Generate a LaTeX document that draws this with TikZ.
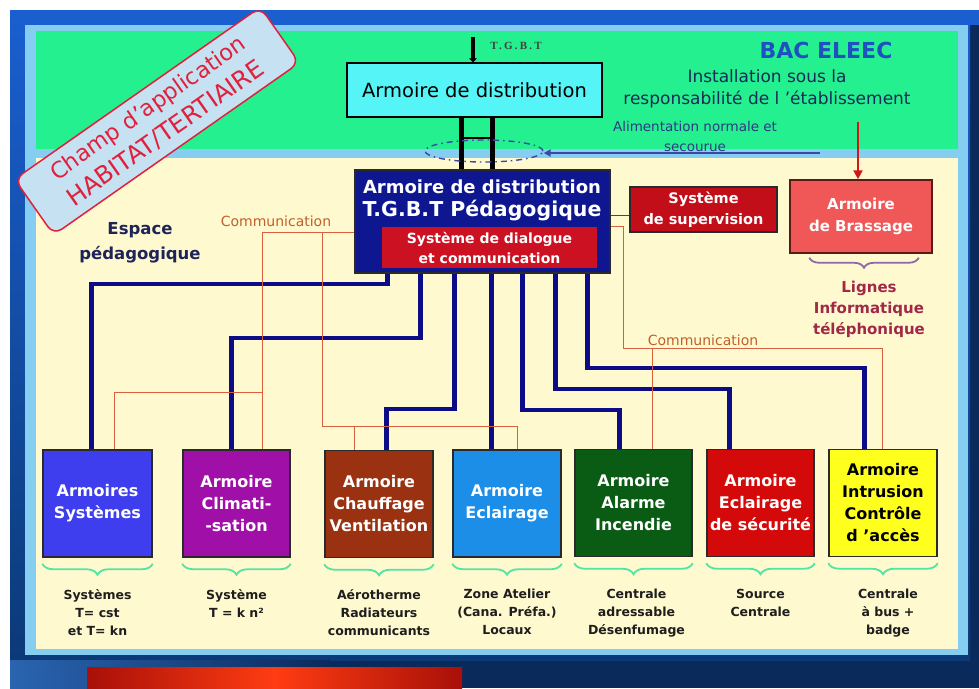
\documentclass[tikz,border=0pt]{standalone}
\usepackage{fontspec}
\setmainfont{DejaVu Sans}
\newfontfamily\tgbtfont[LetterSpace=20]{Liberation Serif}
\usetikzlibrary{arrows.meta,decorations.pathreplacing,shapes.geometric,calc}

% palette
\definecolor{framebl}{HTML}{1A5FD0}
\definecolor{framedk}{HTML}{0B3A78}
\definecolor{navybg}{HTML}{0B2A5C}
\definecolor{rimbl}{HTML}{86CDF2}
\definecolor{headgr}{HTML}{24F090}
\definecolor{cream}{HTML}{FFF9CF}
\definecolor{champred}{HTML}{E0203C}
\definecolor{champfill}{HTML}{C6E2F2}
\definecolor{distcyan}{HTML}{55F4F6}
\definecolor{tgbtnavy}{HTML}{0E1690}
\definecolor{dlgred}{HTML}{CC1222}
\definecolor{suprred}{HTML}{C20E18}
\definecolor{brassred}{HTML}{F05858}
\definecolor{brassedge}{HTML}{5A1A1A}
\definecolor{brassarrow}{HTML}{D01818}
\definecolor{navyln}{HTML}{0C0C86}
\definecolor{commred}{HTML}{D9603E}
\definecolor{suprlink}{HTML}{8A3020}
\definecolor{commtxt}{HTML}{C0602C}
\definecolor{mint}{HTML}{50E6A2}
\definecolor{bracepur}{HTML}{9068A8}
\definecolor{lignetxt}{HTML}{A02848}
\definecolor{espacetxt}{HTML}{1E2458}
\definecolor{bactxt}{HTML}{1E50C0}
\definecolor{insttxt}{HTML}{1A2A58}
\definecolor{alimtxt}{HTML}{2E3A84}
\definecolor{alimln}{HTML}{3A48A8}
\definecolor{captxt}{HTML}{1E1E1E}
\definecolor{boxedge}{HTML}{2A2A2A}
\definecolor{csys}{HTML}{3E3EEE}
\definecolor{cclim}{HTML}{A010A8}
\definecolor{cchauf}{HTML}{9A3212}
\definecolor{cecl}{HTML}{1C8EE8}
\definecolor{calarm}{HTML}{0A5C14}
\definecolor{csecu}{HTML}{D40A0A}
\definecolor{cintr}{HTML}{FFFF1E}
\definecolor{bardark}{HTML}{A81008}
\definecolor{barbright}{HTML}{FF3C12}
\definecolor{barlite}{HTML}{2A64B0}

\begin{document}
\begin{tikzpicture}[x=1pt,y=-1pt,
  armbox/.style={draw=boxedge,line width=1.5pt,inner sep=0pt,minimum height=107pt,
    text=white,font=\fontsize{16}{22}\selectfont\bfseries,align=center},
  smallred/.style={draw=boxedge,line width=1.5pt,inner sep=0pt,text=white,
    font=\fontsize{14.5}{21}\selectfont\bfseries,align=center},
  navyline/.style={draw=navyln,line width=4.5pt},
  commline/.style={draw=commred,line width=1.3pt},
  blackfeed/.style={draw=black,line width=5pt},
  capt/.style={anchor=north,align=center,font=\fontsize{12.5}{18}\selectfont\bfseries,text=captxt},
  brc/.style={decorate,decoration={brace,amplitude=11pt,mirror},draw=mint,line width=1.8pt},
  commlabel/.style={text=commtxt,font=\fontsize{14}{16}\selectfont},
]
\useasboundingbox (0,0) rectangle (979,688);

% ---------- background and frame ----------
\fill[white] (0,0) rectangle (979,688);
\fill[navybg] (10,10) rectangle (979,688);
\shade[top color=framebl,bottom color=framedk] (10,10) rectangle (970,660);
\fill[framebl] (10,10) rectangle (979,25);
\shade[left color=barlite,right color=navybg] (10,660) rectangle (330,688);
\fill[rimbl] (25,25) rectangle (968,655);
\fill[headgr] (36,31) rectangle (958,149);
\fill[cream] (36,158) rectangle (958,649);
\shade[left color=bardark,right color=bardark,middle color=barbright] (87,667) rectangle (462,688);

% ---------- header ----------
\node[font=\fontsize{22}{26}\selectfont\bfseries,text=bactxt] (bac) at (826,50) {BAC ELEEC};
\node[font=\fontsize{17}{22}\selectfont,text=insttxt,align=center] (inst) at (767,89)
  {Installation sous la\\responsabilité de l 'établissement};
\node[font=\fontsize{13.5}{20}\selectfont,text=alimtxt,align=center] (alimtxt) at (695,136)
  {Alimentation normale et\\secourue};

\node[draw=black,line width=1.5pt,fill=distcyan,minimum width=255pt,minimum height=54pt,
  inner sep=0pt,font=\fontsize{19.5}{24}\selectfont] (dist) at (474.5,90) {Armoire de distribution};
\draw[line width=4pt,-{Triangle[length=4pt,width=8pt]}]
  ([xshift=-1.5pt,yshift=25pt]dist.north) -- ([xshift=-1.5pt]dist.north);
\node[font=\tgbtfont\fontsize{11}{13}\selectfont\bfseries,text=black!75] (tgbtlbl) at (516,46) {T.G.B.T};

% ---------- main distribution board ----------
\node[draw=boxedge,line width=1.5pt,fill=tgbtnavy,minimum width=255pt,minimum height=103pt,
  inner sep=0pt] (tgbt) at (482.5,221.5) {};
\node[text=white,font=\fontsize{18}{23}\selectfont\bfseries,align=center,inner sep=0pt] (tgbttxt) at (482,200)
  {Armoire de distribution\\{\fontsize{20.5}{23}\selectfont T.G.B.T Pédagogique}};
\node[smallred,fill=dlgred,draw=none,minimum width=215pt,minimum height=41pt,
  font=\fontsize{14}{20}\selectfont\bfseries] (dlg) at (489.5,247.5)
  {Système de dialogue\\et communication};

% feeders between the two boards
\draw[blackfeed] ([xshift=115pt]dist.south west) -- ([xshift=107pt]tgbt.north west);
\draw[blackfeed] ([xshift=146pt]dist.south west) -- ([xshift=138pt]tgbt.north west);
\coordinate (r1) at (462,138);
\coordinate (r2) at (493,138);
\draw[line width=1.5pt] (r1) -- (r2);

% normal / backup supply switch
\node[ellipse,draw=alimln,line width=1.4pt,dash pattern=on 6pt off 4pt on 1.5pt off 4pt,
  minimum width=118pt,minimum height=22pt,inner sep=0pt] (sw) at (484,151) {};
\coordinate (alim) at (820,153);
\draw[draw=alimln,line width=2.2pt,-{Triangle[length=7pt,width=7pt]}] (alim) -- (alim -| sw.east);

% supervision and patch board
\node[smallred,fill=suprred,minimum width=147pt,minimum height=45pt] (sup) at (703.5,209.5)
  {Système\\de supervision};
\node[smallred,fill=brassred,draw=brassedge,minimum width=142pt,minimum height=73pt,
  font=\fontsize{15}{22}\selectfont\bfseries] (bras) at (861,216.5) {Armoire\\de Brassage};
\draw[draw=brassarrow,line width=2.2pt,-{Triangle[length=9pt,width=9pt]}]
  ([xshift=-3pt,yshift=57pt]bras.north) -- ([xshift=-3pt]bras.north);
\draw[decorate,decoration={brace,amplitude=10pt,mirror},draw=bracepur,line width=1.8pt]
  ([xshift=20pt,yshift=-4pt]bras.south west) -- ([xshift=-14pt,yshift=-4pt]bras.south east);
\node[text=lignetxt,font=\fontsize{15}{21}\selectfont\bfseries,align=center] (lignes) at (869,309)
  {Lignes\\Informatique\\téléphonique};
\draw[draw=suprlink,line width=1.3pt] ([yshift=-46pt]tgbt.north east) -- ([yshift=-29pt]sup.north west);

% ---------- labels ----------
\node[text=espacetxt,font=\fontsize{16.5}{25}\selectfont\bfseries,align=center] (espace) at (140,243)
  {Espace\\pédagogique};
\node[commlabel] (comm1) at (276,221) {Communication};
\node[commlabel] (comm2) at (703,340) {Communication};

% ---------- final boards ----------
\node[armbox,fill=csys,minimum width=109pt] (b1) at (97.5,503.5) {Armoires\\Systèmes};
\node[armbox,fill=cclim,minimum width=107pt] (b2) at (236.5,503.5) {Armoire\\Climati-\\-sation};
\node[armbox,fill=cchauf,minimum width=108pt] (b3) at (379,504) {Armoire\\Chauffage\\Ventilation};
\node[armbox,fill=cecl,minimum width=108pt] (b4) at (507,503.5) {Armoire\\Eclairage};
\node[armbox,fill=calarm,minimum width=117pt] (b5) at (633.5,503) {Armoire\\Alarme\\Incendie};
\node[armbox,fill=csecu,minimum width=107pt] (b6) at (760.5,503) {Armoire\\Eclairage\\de sécurité};
\node[armbox,fill=cintr,text=black,minimum width=108pt] (b7) at (883,503) {Armoire\\Intrusion\\Contrôle\\d 'accès};

% ---------- power feeders ----------
\draw[navyline] ([xshift=33pt]tgbt.south west) -- ++(0,10) -| ([xshift=49pt]b1.north west);
\draw[navyline] ([xshift=66pt]tgbt.south west) -- ++(0,64) -| ([xshift=49pt]b2.north west);
\draw[navyline] ([xshift=100pt]tgbt.south west) -- ++(0,135) -| ([xshift=62pt]b3.north west);
\draw[navyline] ([xshift=137pt]tgbt.south west) -- ([xshift=39pt]b4.north west);
\draw[navyline] ([xshift=168pt]tgbt.south west) -- ++(0,136) -| ([xshift=45pt]b5.north west);
\draw[navyline] ([xshift=201pt]tgbt.south west) -- ++(0,115) -| ([xshift=23pt]b6.north west);
\draw[navyline] ([xshift=233pt]tgbt.south west) -- ++(0,94) -| ([xshift=36pt]b7.north west);

% ---------- communication bus ----------
\draw[commline] ([yshift=-63pt]tgbt.north west) -| ([xshift=80pt]b2.north west);
\draw[commline] ([xshift=80pt,yshift=57pt]b2.north west) -| ([xshift=72pt]b1.north west);
\draw[commline] ([xshift=-32pt,yshift=-63pt]tgbt.north west) |- ([xshift=65pt,yshift=23pt]b4.north west)
  -- ([xshift=65pt]b4.north west);
\draw[commline] ([xshift=30pt,yshift=23pt]b3.north west) -- ([xshift=30pt]b3.north west);
\draw[commline] ([yshift=-57pt]tgbt.north east) -- ++(13,0) |- ([xshift=54pt,yshift=100pt]b7.north west)
  -- ([xshift=54pt]b7.north west);
\draw[commline] ([xshift=78pt,yshift=100pt]b5.north west) -- ([xshift=78pt]b5.north west);

% ---------- braces and captions ----------
\foreach \b in {b1,b2,b3,b4,b5,b6,b7}{
  \draw[brc] ([yshift=-6pt]\b.south west) -- ([yshift=-6pt]\b.south east);
}
\node[capt] (t1) at ([yshift=-28pt]b1.south) {Systèmes\\T= cst\\et T= kn};
\node[capt] (t2) at ([yshift=-28pt]b2.south) {Système\\T = k n²};
\node[capt] (t3) at ([yshift=-28pt]b3.south) {Aérotherme\\Radiateurs\\communicants};
\node[capt] (t4) at ([yshift=-28pt]b4.south) {Zone Atelier\\(Cana. Préfa.)\\Locaux};
\node[capt] (t5) at ([xshift=3pt,yshift=-28pt]b5.south) {Centrale\\adressable\\Désenfumage};
\node[capt] (t6) at ([yshift=-28pt]b6.south) {Source\\Centrale};
\node[capt] (t7) at ([xshift=5pt,yshift=-28pt]b7.south) {Centrale\\à bus +\\badge};

% ---------- scope banner ----------
\begin{scope}
\clip (10,0) rectangle (979,688);
\node[draw=champred,fill=champfill,line width=1.5pt,rounded corners=10pt,rotate=35,
  minimum width=300pt,minimum height=68pt,inner sep=0pt,align=center,text=champred,
  font=\fontsize{22.5}{27}\selectfont] (champ) at (157,121)
  {Champ d'application\\[4pt]{\fontsize{24.5}{27}\selectfont HABITAT/TERTIAIRE}};
\end{scope}
\end{tikzpicture}
\end{document}
